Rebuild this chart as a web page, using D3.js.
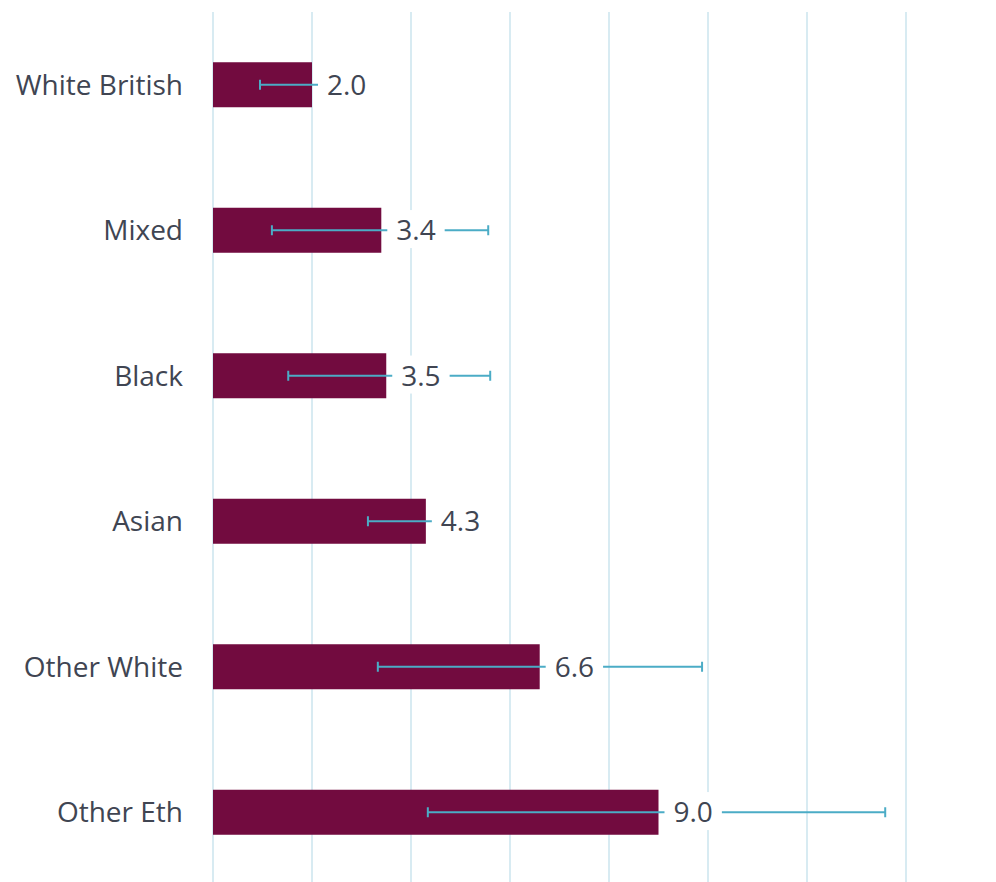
<!DOCTYPE html>
<html><head><meta charset="utf-8">
<script src="https://cdn.jsdelivr.net/npm/d3@7"></script>
<style>body{margin:0;background:#fff;} svg{display:block;}</style>
</head><body>
<svg id="chart" width="996" height="882"></svg>
<script>
const categories = ["White British","Mixed","Black","Asian","Other White","Other Eth"];
const values = [2.0, 3.4, 3.5, 4.3, 6.6, 9.0];
const errLow = [0.95, 1.19, 1.52, 3.13, 3.33, 4.34];
const errHigh = [3.0, 5.56, 5.6, 5.3, 9.88, 13.58];
const xTicks = [0,2,4,6,8,10,12,14];

const svg = d3.select("#chart");
const x = d3.scaleLinear().domain([0,14]).range([213, 906]);
const y = d3.scaleBand().domain(categories).range([12, 885]).padding(0);
const barH = 45;
const font = "'Open Sans', sans-serif";

// gridlines
svg.append("g").selectAll("line").data(xTicks).join("line")
  .attr("x1", d=>x(d)).attr("x2", d=>x(d))
  .attr("y1", 12).attr("y2", 882)
  .attr("stroke", "#d8ebf2").attr("stroke-width", 2);

const cy = d => y(d) + y.bandwidth()/2;

// bars
svg.append("g").selectAll("rect").data(categories).join("rect")
  .attr("x", x(0)).attr("y", d => cy(d) - barH/2)
  .attr("width", (d,i) => x(values[i]) - x(0))
  .attr("height", barH)
  .attr("fill", "#720b3f");

// error bars
const eg = svg.append("g").attr("stroke", "#4bacc6").attr("stroke-width", 2);
categories.forEach((c,i) => {
  const yy = cy(c);
  eg.append("line").attr("x1", x(errLow[i])).attr("x2", x(errHigh[i])).attr("y1", yy).attr("y2", yy);
  eg.append("line").attr("x1", x(errLow[i])).attr("x2", x(errLow[i])).attr("y1", yy-5).attr("y2", yy+5);
  eg.append("line").attr("x1", x(errHigh[i])).attr("x2", x(errHigh[i])).attr("y1", yy-5).attr("y2", yy+5);
});

// value labels with white background
const lg = svg.append("g");
categories.forEach((c,i) => {
  const g = lg.append("g");
  const t = g.append("text")
    .attr("x", x(values[i]) + 15).attr("y", cy(c))
    .attr("dy", "0.35em")
    .attr("font-family", font).attr("font-size", 28)
    .attr("fill", "#404552")
    .text(values[i].toFixed(1));
  const bb = t.node().getBBox();
  g.insert("rect", "text")
    .attr("x", bb.x - 9).attr("y", bb.y)
    .attr("width", bb.width + 18).attr("height", bb.height)
    .attr("fill", "#fff");
});

// category labels
svg.append("g").selectAll("text").data(categories).join("text")
  .attr("x", 183).attr("y", d => cy(d)).attr("dy", "0.35em")
  .attr("text-anchor", "end")
  .attr("font-family", font).attr("font-size", 28)
  .attr("fill", "#404552")
  .text(d => d);
</script>
</body></html>
